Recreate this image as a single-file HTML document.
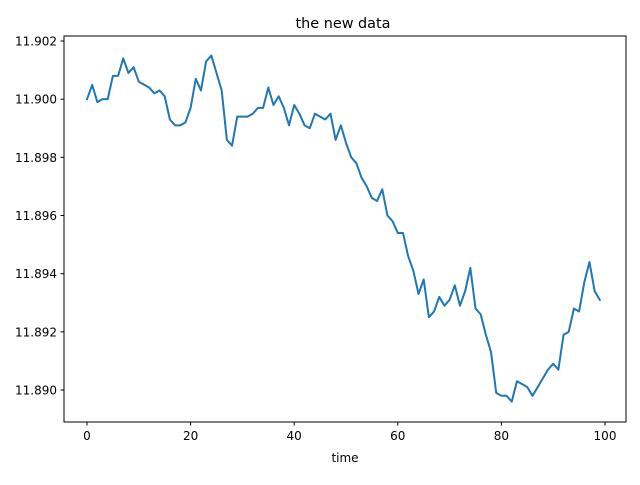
<!DOCTYPE html>
<html><head><meta charset="utf-8"><style>
body{margin:0;background:#fff;}
svg{font-family:"DejaVu Sans","Liberation Sans",sans-serif;}
</style></head><body>
<svg id="chart" width="640" height="480" viewBox="0 0 640 480">
<rect width="640" height="480" fill="#fff"/>
<text x="343" y="28" font-size="14.4" text-anchor="middle" fill="#000">the new data</text>
<g id="plot"></g>
<rect x="64" y="36" width="562" height="386" fill="none" stroke="#000" stroke-width="1"/>
<text x="345" y="462" font-size="12" text-anchor="middle">time</text>
</svg>
<script>
const xTicks = [0, 20, 40, 60, 80, 100];
const yTicks = [11.890, 11.892, 11.894, 11.896, 11.898, 11.900, 11.902];
const yTickLabels = ["11.890", "11.892", "11.894", "11.896", "11.898", "11.900", "11.902"];
const values = [11.9000,11.90049,11.8999,11.9000,11.9000,11.9008,11.9008,11.9014,11.9009,11.9011,
11.9006,11.9005,11.9004,11.9002,11.9003,11.9001,11.8993,11.8991,11.8991,11.8992,
11.8997,11.9007,11.9003,11.9013,11.9015,11.9009,11.9003,11.8986,11.8984,11.8994,
11.8994,11.8994,11.8995,11.8997,11.8997,11.9004,11.8998,11.9001,11.8997,11.8991,
11.8998,11.8995,11.8991,11.8990,11.8995,11.8994,11.8993,11.8995,11.8986,11.8991,
11.8985,11.8980,11.8978,11.8973,11.8970,11.8966,11.8965,11.8969,11.8960,11.8958,
11.8954,11.8954,11.8946,11.8941,11.8933,11.8938,11.8925,11.8927,11.8932,11.8929,
11.8931,11.8936,11.8929,11.8934,11.8942,11.8928,11.8926,11.8919,11.8913,11.8899,
11.8898,11.8898,11.8896,11.8903,11.8902,11.8901,11.8898,11.8901,11.8904,11.8907,
11.8909,11.8907,11.8919,11.8920,11.8928,11.8927,11.8937,11.8944,11.8934,11.8931];

const NS = "http://www.w3.org/2000/svg";
const plot = document.getElementById('plot');
const xs = v => 87 + (v) * 5.18;
const ys = v => 41 + (11.902 - v) * 29083;

xTicks.forEach(t => {
  const l = document.createElementNS(NS, 'line');
  l.setAttribute('x1', xs(t)); l.setAttribute('x2', xs(t));
  l.setAttribute('y1', 422); l.setAttribute('y2', 425.5);
  l.setAttribute('stroke', '#000');
  
  
  plot.appendChild(l);
  const tx = document.createElementNS(NS, 'text');
  tx.setAttribute('x', xs(t)); tx.setAttribute('y', 440);
  tx.setAttribute('font-size', '12'); tx.setAttribute('text-anchor', 'middle');
  tx.textContent = t;
  
  
  plot.appendChild(tx);
});
yTicks.forEach((t, i) => {
  const l = document.createElementNS(NS, 'line');
  l.setAttribute('x1', 60.5); l.setAttribute('x2', 64);
  l.setAttribute('y1', ys(t)); l.setAttribute('y2', ys(t));
  l.setAttribute('stroke', '#000');
  
  
  plot.appendChild(l);
  const tx = document.createElementNS(NS, 'text');
  tx.setAttribute('x', 57); tx.setAttribute('y', ys(t) + 4.5);
  tx.setAttribute('font-size', '12'); tx.setAttribute('text-anchor', 'end');
  tx.textContent = yTickLabels[i];
  
  
  plot.appendChild(tx);
});
const pts = values.map((v, i) => xs(i).toFixed(2) + ',' + ys(v).toFixed(2)).join(' ');
const pl = document.createElementNS(NS, 'polyline');
pl.setAttribute('points', pts);
pl.setAttribute('fill', 'none');
pl.setAttribute('stroke', '#1f77b4');
pl.setAttribute('stroke-width', '2');
pl.setAttribute('stroke-linejoin', 'round');
pl.setAttribute('stroke-linecap', 'square');


plot.appendChild(pl);
</script>
</body></html>
